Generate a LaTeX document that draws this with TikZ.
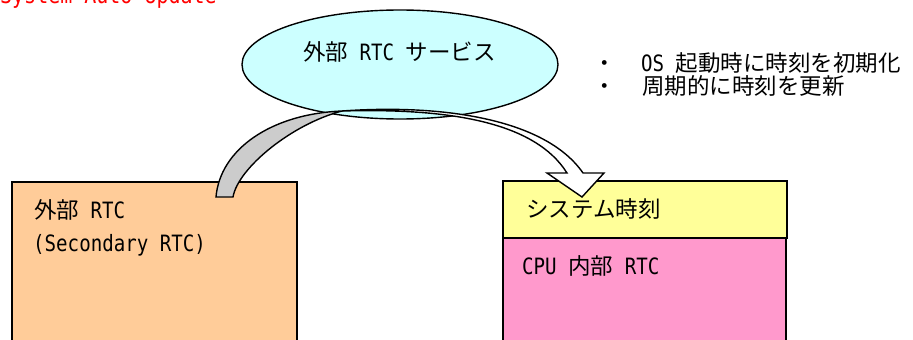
\documentclass[tikz,border=0pt]{standalone}
\usepackage{fontspec}
\setmainfont{Noto Sans CJK JP}
\newfontfamily\jp{Noto Sans CJK JP}
\newfontfamily\mono[FakeStretch=0.85]{DejaVu Sans Mono}
\newcommand\M[1]{{\mono#1}}
\usetikzlibrary{shapes.geometric}
\definecolor{cyanfill}{RGB}{204,255,255}
\definecolor{orangefill}{RGB}{255,204,153}
\definecolor{yellowfill}{RGB}{255,255,153}
\definecolor{pinkfill}{RGB}{255,153,204}
\definecolor{grayfill}{RGB}{204,204,204}
\definecolor{titlered}{RGB}{255,0,0}
\begin{document}
\begin{tikzpicture}[x=1pt,y=-1pt,
  txt/.style={anchor=base west, inner sep=0pt, font=\jp\fontsize{22.5}{27}\selectfont},
  boxline/.style={draw=black, line width=1.4pt},
  arrowline/.style={draw=black, line width=1.4pt, line join=miter}]
\useasboundingbox (0,0) rectangle (913,340);
\clip (0,0) rectangle (913,340);
% title
\node[anchor=base west, inner sep=0pt, text=titlered, font=\mono\fontsize{23.5}{28}\selectfont] (title) at (0,4) {System Auto Update};
% boxes
\draw[boxline, fill=orangefill] (12,182) rectangle (297,360);
\draw[boxline, fill=pinkfill] (503,238) rectangle (786,360);
\draw[boxline, line width=1.8pt, fill=yellowfill] (503,181) rectangle (787,238);
% ellipse
\node[ellipse, draw=black, line width=1.4pt, fill=cyanfill, minimum width=316pt, minimum height=109pt, inner sep=0pt] (svc) at (400,64.5) {};
\node[txt] (svclabel) at (303,60) {外部\M{ RTC }サービス};
% bullets
\node[txt] (dot1) at (593.5,71) {・};
\node[txt] (bul1) at (641,71) {\M{OS }起動時に時刻を初期化};
\node[txt] (dot2) at (593.5,94) {・};
\node[txt] (bul2) at (642,94) {周期的に時刻を更新};
% box texts
\node[txt] (ext1) at (34,218) {外部\M{ RTC}};
\node[txt] (ext2) at (33,251) {\M{(Secondary RTC)}};
\node[txt] (sys) at (526,217) {システム時刻};
\node[txt] (cpu) at (522,274) {\M{CPU }内部\M{ RTC}};
% curved block arrow
\draw[arrowline, fill=grayfill] (216,197) .. controls (220,150) and (270,114) .. (342,111)
  .. controls (292,124) and (238,168) .. (233,197) -- cycle;
\draw[arrowline, fill=white] (342,111) .. controls (440,104) and (545,118) .. (583,173)
  -- (604,173) -- (582,197) -- (547,173) -- (567,173)
  .. controls (535,122) and (450,108) .. (342,111) -- cycle;
\end{tikzpicture}
\end{document}
